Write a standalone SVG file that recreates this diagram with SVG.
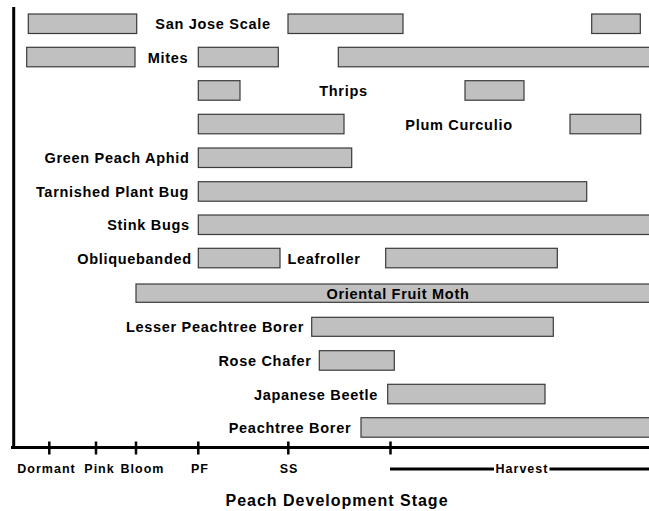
<svg xmlns="http://www.w3.org/2000/svg" width="649" height="511" viewBox="0 0 649 511">
<style>
.bar{fill:#c0c0c0;stroke:#3a3a3a;stroke-width:1.2}
.lbl{font-family:"Liberation Sans",Arial,sans-serif;font-weight:bold;font-size:14.5px;letter-spacing:0.7px;fill:#000;text-anchor:middle}
.tick{font-family:"Liberation Sans",Arial,sans-serif;font-weight:bold;font-size:12.5px;letter-spacing:1px;fill:#000;text-anchor:middle}
.title{font-family:"Liberation Sans",Arial,sans-serif;font-weight:bold;font-size:16px;letter-spacing:1px;fill:#000;text-anchor:middle}
.ax{stroke:#000;stroke-width:3;fill:none}
</style>
<rect width="649" height="511" fill="#fff"/>
<g id="san-jose-scale">
<rect class="bar" x="28.3" y="14" width="108.4" height="19.5"/>
<rect class="bar" x="288" y="14" width="115" height="19.5"/>
<rect class="bar" x="591.7" y="14" width="48.6" height="19.5"/>
<text class="lbl" x="213" y="29.3">San Jose Scale</text>
</g>
<g id="mites">
<rect class="bar" x="26.7" y="47.3" width="108.3" height="19.5"/>
<rect class="bar" x="198.3" y="47.3" width="80" height="19.5"/>
<rect class="bar" x="338.3" y="47.3" width="320" height="19.5"/>
<text class="lbl" x="168" y="62.6">Mites</text>
</g>
<g id="thrips">
<rect class="bar" x="198.3" y="80.7" width="41.7" height="19.5"/>
<rect class="bar" x="465" y="80.7" width="59" height="19.5"/>
<text class="lbl" x="343.5" y="96">Thrips</text>
</g>
<g id="plum-curculio">
<rect class="bar" x="198.3" y="114.3" width="145.7" height="19.5"/>
<rect class="bar" x="570" y="114.3" width="70.7" height="19.5"/>
<text class="lbl" x="459" y="129.6">Plum Curculio</text>
</g>
<g id="green-peach-aphid">
<rect class="bar" x="198.3" y="148" width="153.4" height="19.5"/>
<text class="lbl" x="117" y="163.3">Green Peach Aphid</text>
</g>
<g id="tarnished-plant-bug">
<rect class="bar" x="198.3" y="181.7" width="388.4" height="19.5"/>
<text class="lbl" x="112.5" y="197">Tarnished Plant Bug</text>
</g>
<g id="stink-bugs">
<rect class="bar" x="198.3" y="215" width="460" height="19.5"/>
<text class="lbl" x="148.5" y="230.3">Stink Bugs</text>
</g>
<g id="obliquebanded-leafroller">
<rect class="bar" x="198.3" y="248.3" width="81.7" height="19.5"/>
<rect class="bar" x="385.7" y="248.3" width="171.6" height="19.5"/>
<text class="lbl" x="134.5" y="263.6">Obliquebanded</text>
<text class="lbl" x="324" y="263.6">Leafroller</text>
</g>
<g id="oriental-fruit-moth">
<rect class="bar" x="136" y="284" width="520" height="18.3"/>
<text class="lbl" x="398" y="298.7">Oriental Fruit Moth</text>
</g>
<g id="lesser-peachtree-borer">
<rect class="bar" x="311.7" y="317.3" width="241.6" height="19"/>
<text class="lbl" x="215" y="332.4">Lesser Peachtree Borer</text>
</g>
<g id="rose-chafer">
<rect class="bar" x="319.3" y="350.7" width="75" height="19.5"/>
<text class="lbl" x="265" y="366">Rose Chafer</text>
</g>
<g id="japanese-beetle">
<rect class="bar" x="387.7" y="384.3" width="157.3" height="19.5"/>
<text class="lbl" x="316" y="399.6">Japanese Beetle</text>
</g>
<g id="peachtree-borer">
<rect class="bar" x="361" y="417.7" width="300" height="19.5"/>
<text class="lbl" x="290" y="433">Peachtree Borer</text>
</g>
<g id="axes">
<line class="ax" x1="13.7" y1="7" x2="13.7" y2="449"/>
<line class="ax" x1="11" y1="447.5" x2="649" y2="447.5"/>
<g stroke="#000" stroke-width="2.5">
<line x1="49.3" y1="441.5" x2="49.3" y2="454.5"/>
<line x1="96" y1="441.5" x2="96" y2="454.5"/>
<line x1="136" y1="441.5" x2="136" y2="454.5"/>
<line x1="198.3" y1="441.5" x2="198.3" y2="454.5"/>
<line x1="288.3" y1="441.5" x2="288.3" y2="454.5"/>
<line x1="390.5" y1="441.5" x2="390.5" y2="454.5"/>
</g>
<line class="ax" x1="390" y1="469" x2="494" y2="469"/>
<line class="ax" x1="549.5" y1="469" x2="649" y2="469"/>
</g>
<g id="axis-labels">
<text class="tick" x="46.5" y="472.5">Dormant</text>
<text class="tick" x="99.5" y="472.5">Pink</text>
<text class="tick" x="142.5" y="472.5">Bloom</text>
<text class="tick" x="200" y="472.5">PF</text>
<text class="tick" x="289" y="472.5">SS</text>
<text class="tick" x="522" y="473">Harvest</text>
<text class="title" x="337" y="506">Peach Development Stage</text>
</g>
</svg>
